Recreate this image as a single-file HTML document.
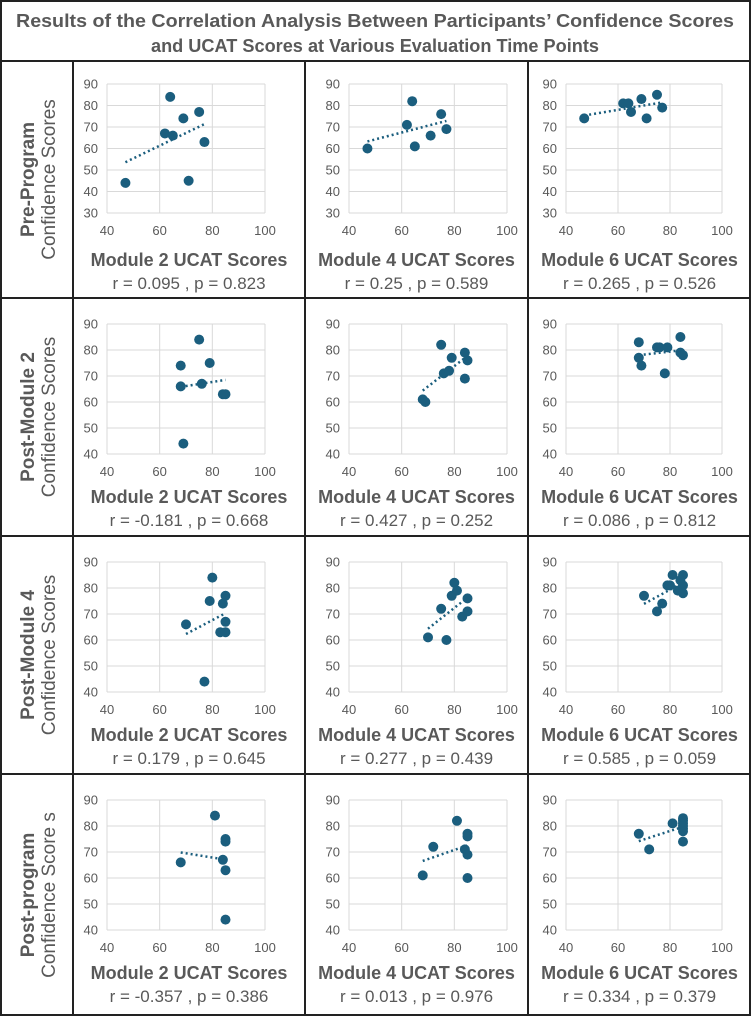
<!DOCTYPE html>
<html><head><meta charset="utf-8"><style>
html,body{margin:0;padding:0;background:#fff;}
svg{display:block;font-family:"Liberation Sans",Arial,sans-serif;}
</style></head><body>
<svg id="fig" width="751" height="1016" viewBox="0 0 751 1016"></svg>
<script>
const rowLabels=["Pre-Program","Post-Module 2","Post-Module 4","Post-program"];
const rowSub=["Confidence Scores","Confidence Scores","Confidence Scores","Confidence Score s"];
const xTitles=["Module 2 UCAT Scores","Module 4 UCAT Scores","Module 6 UCAT Scores"];
const statsText=[
["r = 0.095 , p = 0.823","r = 0.25 , p = 0.589","r = 0.265  , p = 0.526"],
["r = -0.181  , p = 0.668","r = 0.427  , p = 0.252","r = 0.086  , p = 0.812"],
["r = 0.179 , p = 0.645","r = 0.277  , p = 0.439","r = 0.585  , p = 0.059"],
["r = -0.357  , p = 0.386","r = 0.013  , p = 0.976","r = 0.334   , p = 0.379"]];
const xTicks=[40,60,80,100];
const yTicksRow1=[30,40,50,60,70,80,90];
const yTicksOther=[40,50,60,70,80,90];
// series data: [row][col] x values (UCAT) and y values (confidence)
const xs=[
[[47,64,69,75,62,65,77,71],[47,64,62,75,77,71,65],[47,62,64,65,69,75,77,71]],
[[69,68,68,75,79,76,84,85],[68,69,75,76,78,79,84,85,84],[68,68,69,75,76,79,78,84,84,85]],
[[70,80,79,84,85,85,83,85,77],[70,77,75,79,80,81,85,85,83],[70,75,77,79,80,81,85,84,85,83,85]],
[[68,81,85,85,84,85,85],[68,72,81,85,85,84,85,85],[68,72,81,85,85,85,85,85,85,85]]];
const ys=[
[[44,84,74,77,67,66,63,45],[60,82,71,76,69,66,61],[74,81,81,77,83,85,79,74]],
[[44,74,66,84,75,67,63,63],[61,60,82,71,72,77,79,76,69],[83,77,74,81,81,81,71,85,79,78]],
[[66,84,75,74,77,67,63,63,44],[61,60,72,77,82,79,76,71,69],[77,71,74,81,81,85,85,83,81,79,78]],
[[66,84,75,74,67,63,44],[61,72,82,77,76,71,69,60],[77,71,81,83,82,81,80,79,78,74]]];

const NS="http://www.w3.org/2000/svg";
const svg=document.getElementById('fig');
function mk(tag,attrs,parent){const e=document.createElementNS(NS,tag);for(const k in attrs)e.setAttribute(k,attrs[k]);(parent||svg).appendChild(e);return e;}
const grey="#595959",dot="#1b5e7e";
const rowTops=[61,298,536,774,1016];
const colX=[0,73,305,528,751];
const plotL=[107,349,566], plotR=[265,507,722];

const t1=mk('text',{x:375,y:27,'text-anchor':'middle','font-size':18,'font-weight':'bold',fill:grey,textLength:718,lengthAdjust:'spacingAndGlyphs'});
t1.textContent="Results of the Correlation Analysis Between Participants\u2019 Confidence Scores";


const t2=mk('text',{x:375,y:52,'text-anchor':'middle','font-size':18,'font-weight':'bold',fill:grey,textLength:448,lengthAdjust:'spacingAndGlyphs'});
t2.textContent="and UCAT Scores at Various Evaluation Time Points";



for(let r=0;r<4;r++){
  const top=rowTops[r], bot=rowTops[r+1];
  const cy=(top+bot)/2;
  const g=mk('g',{transform:`translate(36,${cy}) rotate(-90)`});
  
  
  const a=mk('text',{x:0,y:-2,'text-anchor':'middle','font-size':19,'font-weight':'bold',fill:grey},g);a.textContent=rowLabels[r];
  const b=mk('text',{x:0,y:19,'text-anchor':'middle','font-size':19,fill:grey},g);b.textContent=rowSub[r];
  const yT=r===0?yTicksRow1:yTicksOther;
  const yMin=yT[0],yMax=yT[yT.length-1];
  const pT=top+(r===0?23:26), pB=top+(r===0?152:156);
  for(let c=0;c<3;c++){
    const L=plotL[c],R=plotR[c];
    const sx=v=>L+(v-40)/(60)*(R-L);
    const sy=v=>pB-(v-yMin)/(yMax-yMin)*(pB-pT);
    const pg=mk('g',{});
    
    
    yT.forEach(v=>{mk('line',{x1:L,x2:R,y1:sy(v),y2:sy(v),stroke:'#d9d9d9','stroke-width':1},pg);
      const tl=mk('text',{x:L-9,y:sy(v)+4.5,'text-anchor':'end','font-size':13,fill:grey},pg);tl.textContent=v;});
    xTicks.forEach(v=>{mk('line',{x1:sx(v),x2:sx(v),y1:pT,y2:pB,stroke:'#d9d9d9','stroke-width':1},pg);
      const tl=mk('text',{x:sx(v),y:pB+22,'text-anchor':'middle','font-size':13,fill:grey},pg);tl.textContent=v;});
    const X=xs[r][c],Y=ys[r][c],n=X.length;
    let mx=0,my=0;for(let i=0;i<n;i++){mx+=X[i];my+=Y[i];}mx/=n;my/=n;
    let sxy=0,sxx=0;for(let i=0;i<n;i++){sxy+=(X[i]-mx)*(Y[i]-my);sxx+=(X[i]-mx)**2;}
    const slope=sxx?sxy/sxx:0, x0=Math.min(...X), x1=Math.max(...X);
    for(let i=0;i<n;i++){
      const d=mk('circle',{cx:sx(X[i]),cy:sy(Y[i]),r:5,fill:dot},pg);
      
      
    }
    const tr=mk('line',{x1:sx(x0),y1:sy(my+slope*(x0-mx)),x2:sx(x1),y2:sy(my+slope*(x1-mx)),stroke:dot,'stroke-width':2.5,'stroke-dasharray':'2 3'},pg);
    
    
    const cx=(colX[c+1]+colX[c+2])/2;
    const xt=mk('text',{x:cx,y:top+205,'text-anchor':'middle','font-size':18,'font-weight':'bold',fill:grey},pg);xt.textContent=xTitles[c];
    
    
    const st=mk('text',{x:cx,y:top+228,'text-anchor':'middle','font-size':17,fill:grey},pg);st.textContent=statsText[r][c];
    
    
  }
}
rowTops.slice(0,4).forEach(y=>mk('line',{x1:0,x2:751,y1:y,y2:y,stroke:'#222','stroke-width':2}));
colX.slice(1,4).forEach(x=>mk('line',{x1:x,x2:x,y1:61,y2:1016,stroke:'#222','stroke-width':2}));
mk('rect',{x:1,y:1,width:749,height:1014,fill:'none',stroke:'#222','stroke-width':2});
</script>
</body></html>
